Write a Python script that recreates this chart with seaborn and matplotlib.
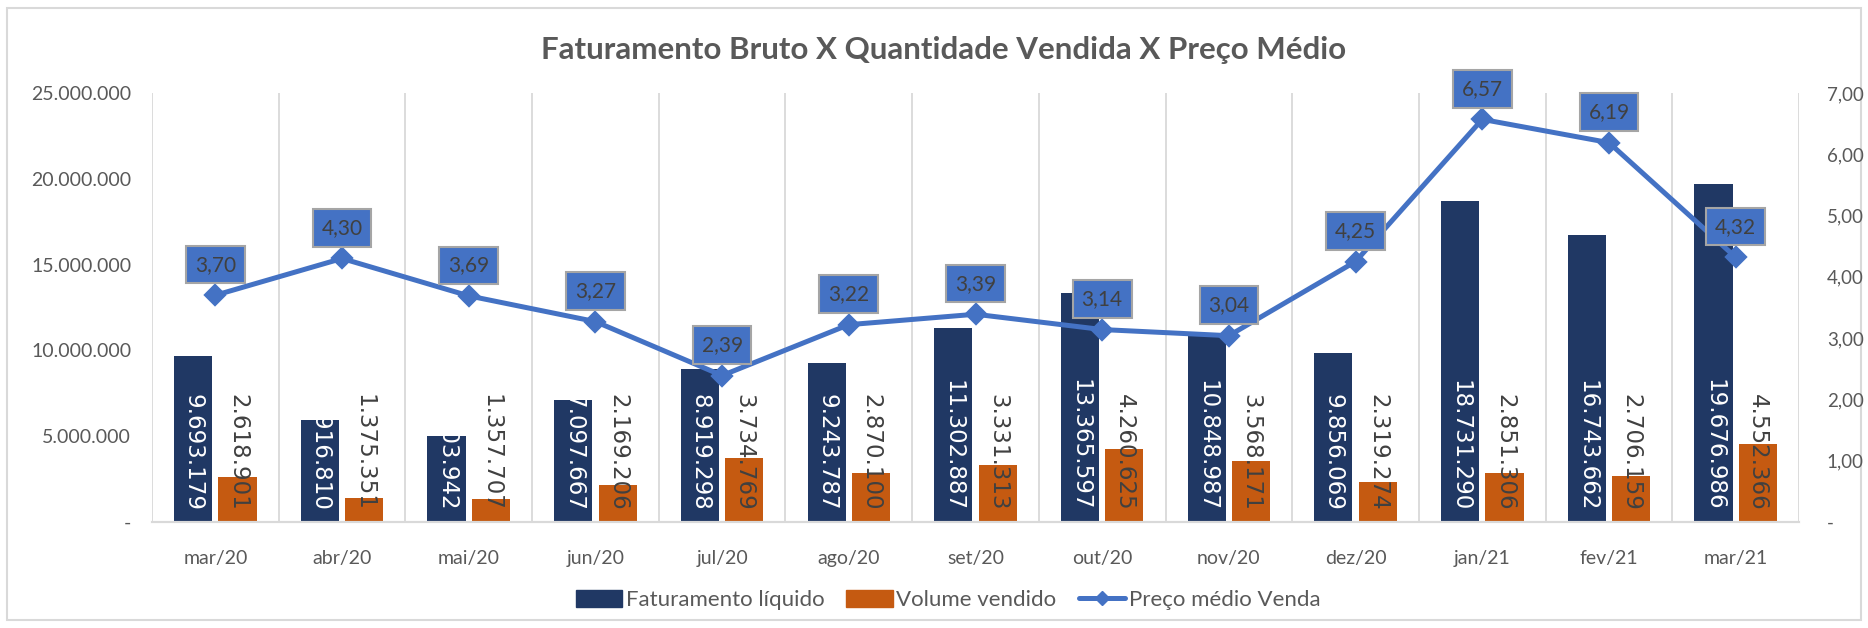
import pandas as pd
import numpy as np
import matplotlib
matplotlib.use("Agg")
import matplotlib.pyplot as plt
import seaborn as sns
from matplotlib.patches import Patch, Rectangle
from matplotlib.lines import Line2D
from matplotlib.ticker import FuncFormatter, FixedLocator

# --------------------------------------------------
# DATA
# --------------------------------------------------
meses = ['mar/20', 'abr/20', 'mai/20', 'jun/20', 'jul/20', 'ago/20', 'set/20',
         'out/20', 'nov/20', 'dez/20', 'jan/21', 'fev/21', 'mar/21']
faturamento = [9693179, 5916810, 5003942, 7097667, 8919298, 9243787, 11302887,
               13365597, 10848987, 9856069, 18731290, 16743662, 19676986]
volume = [2618901, 1375351, 1357707, 2169206, 3734769, 2870100, 3331313,
          4260625, 3568171, 2319274, 2851306, 2706159, 4552366]
preco = [3.70, 4.30, 3.69, 3.27, 2.39, 3.22, 3.39, 3.14, 3.04, 4.25, 6.57, 6.19, 4.32]

serie_fat = 'Faturamento líquido'
serie_vol = 'Volume vendido'
serie_preco = 'Preço médio Venda'

# --------------------------------------------------
# THEME
# --------------------------------------------------
sns.set_theme(style="white")
plt.rcParams['font.family'] = ['Lato', 'DejaVu Sans']
GRAY = '#595959'
NAVY = '#203864'
ORANGE = '#C55A11'
BLUE = '#4472C4'
GRID = '#D9D9D9'

df = pd.DataFrame({
    'mes': meses * 2,
    'valor': faturamento + volume,
    'serie': [serie_fat] * len(meses) + [serie_vol] * len(meses),
})

fig = plt.figure(figsize=(18.68, 6.28), dpi=100)
ax = fig.add_axes([152 / 1868, 1 - 522 / 628, (1799 - 152) / 1868, (522 - 93) / 628])

sns.barplot(data=df, x='mes', y='valor', hue='serie', order=meses,
            hue_order=[serie_fat, serie_vol],
            palette={serie_fat: NAVY, serie_vol: ORANGE}, saturation=1,
            width=0.7, gap=0.14, linewidth=0, errorbar=None, legend=False, ax=ax)

# bar labels, rotated, anchored at base
for cont, txtcolor in zip(ax.containers, ['white', '#404040']):
    for bar in cont:
        v = bar.get_height()
        lbl = f"{int(round(v)):,}".replace(',', '.')
        ax.annotate(lbl, (bar.get_x() + bar.get_width() / 2, 0),
                    xytext=(0, 8), textcoords='offset points',
                    rotation=270, ha='center', va='bottom',
                    fontsize=16.5, color=txtcolor, family='DejaVu Sans', zorder=5)

ax.set_ylim(0, 25_000_000)
ax.set_xlim(-0.5, len(meses) - 0.5)
ax.yaxis.set_major_locator(FixedLocator(np.arange(0, 25_000_001, 5_000_000)))
ax.yaxis.set_major_formatter(FuncFormatter(
    lambda v, p: '-' if v == 0 else f"{int(v):,}".replace(',', '.')))
ax.set_xlabel('')
ax.set_ylabel('')

# twin axis for the price line
ax2 = ax.twinx()
sns.pointplot(x=meses, y=preco, ax=ax2, color=BLUE, markers='D',
              markersize=9, linewidth=3.6, errorbar=None)
ax2.set_ylim(0, 7)
ax2.set_xlim(-0.5, len(meses) - 0.5)
ax2.yaxis.set_major_locator(FixedLocator(np.arange(0, 8, 1)))
ax2.yaxis.set_major_formatter(FuncFormatter(
    lambda v, p: '-' if v == 0 else f"{v:.2f}".replace('.', ',')))
ax2.set_ylabel('')

for i, v in enumerate(preco):
    ax2.annotate(f"{v:.2f}".replace('.', ','), (i, v), xytext=(0, 22),
                 textcoords='offset points', ha='center', va='center',
                 fontsize=15, color='#404040',
                 bbox=dict(boxstyle='square,pad=0.42', fc=BLUE, ec='#A5A5A5', lw=1.5))

# gridlines at category boundaries
bounds = np.arange(-0.5, len(meses), 1.0)
ax.set_xticks(bounds, minor=True)
ax.set_xticks(range(len(meses)))
ax.set_xticklabels(meses)
ax.grid(True, which='minor', axis='x', color=GRID, linewidth=1.3)
ax.grid(False, which='major')
ax.tick_params(axis='x', which='minor', length=7, color=GRID, width=1.3)
ax.tick_params(axis='x', which='major', length=0, pad=20, labelsize=14, labelcolor=GRAY)
ax.tick_params(axis='y', length=0, pad=15, labelsize=14, labelcolor=GRAY)
ax2.tick_params(axis='y', length=0, pad=20, labelsize=13.5, labelcolor=GRAY)
ax2.tick_params(axis='x', which='both', length=0, labelbottom=False)
ax2.grid(False)
ax.set_zorder(1)
ax2.set_zorder(2)
ax2.patch.set_visible(False)

for a in (ax, ax2):
    for s in ('left', 'right', 'top'):
        a.spines[s].set_visible(False)
    a.spines['bottom'].set_color(GRID)
    a.spines['bottom'].set_linewidth(1.5)

fig.suptitle('Faturamento Bruto X Quantidade Vendida X Preço Médio',
             x=0.505, y=1 - 50 / 628, va='center', fontsize=22.5,
             fontweight='bold', color=GRAY)

handles = [Patch(color=NAVY, label=serie_fat),
           Patch(color=ORANGE, label=serie_vol),
           Line2D([], [], color=BLUE, lw=3.6, marker='D', markersize=7, label=serie_preco)]
fig.legend(handles=handles, loc='center', bbox_to_anchor=(948 / 1868, 1 - 600 / 628),
           ncol=3, frameon=False, fontsize=16, labelcolor=GRAY,
           handlelength=2.1, handleheight=0.8, handletextpad=0.15, columnspacing=1.0)

# outer chart border
fig.patches.append(Rectangle((7 / 1868, 8 / 628), 1854 / 1868, 612 / 628,
                             transform=fig.transFigure, fill=False,
                             edgecolor=GRID, linewidth=1.5))

plt.savefig('out.png', dpi=100)
